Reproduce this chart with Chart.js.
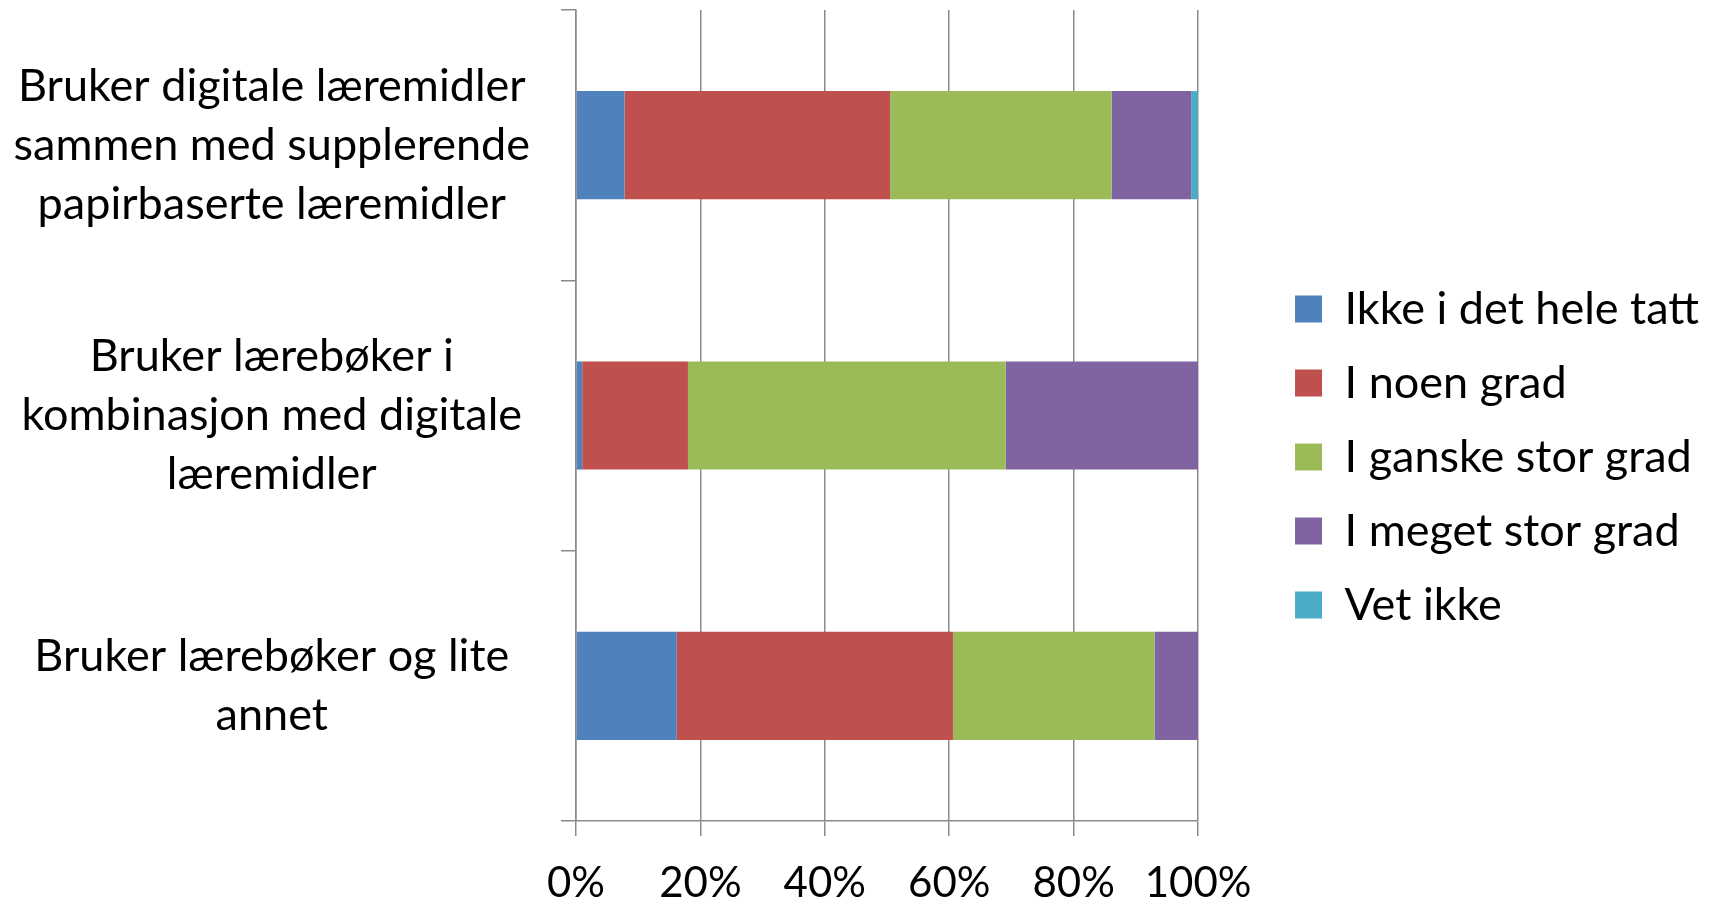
<!DOCTYPE html>
<html>
<head>
<meta charset="utf-8">
<script src="https://cdn.jsdelivr.net/npm/chart.js@4/dist/chart.umd.min.js"></script>
<style>
  html, body { margin: 0; padding: 0; background: #fff; }
  #wrap { width: 1713px; height: 904px; position: relative; }
</style>
</head>
<body>
<div id="wrap"><canvas id="myChart"></canvas></div>
<script>
(() => {
  'use strict'

  // categories (multi-line labels as in the original)
  const categories = [
    ['Bruker digitale læremidler', 'sammen med supplerende', 'papirbaserte læremidler'],
    ['Bruker lærebøker i', 'kombinasjon med digitale', 'læremidler'],
    ['Bruker lærebøker og lite', 'annet']
  ]

  const seriesNames = ['Ikke i det hele tatt', 'I noen grad', 'I ganske stor grad', 'I meget stor grad', 'Vet ikke']

  // percent values
  const ikkeIDetHeleTatt = [7.8, 1.0, 16.2]
  const iNoenGrad = [42.7, 17.0, 44.4]
  const iGanskeStorGrad = [35.6, 51.1, 32.4]
  const iMegetStorGrad = [12.8, 30.9, 7.0]
  const vetIkke = [1.1, 0, 0]

  const xTicks = [0, 20, 40, 60, 80, 100]

  const colors = ['#4F81BD', '#C0504D', '#9BBB59', '#8064A2', '#4BACC6']
  const values = [ikkeIDetHeleTatt, iNoenGrad, iGanskeStorGrad, iMegetStorGrad, vetIkke]

  const gridColor = '#8a8a8a'

  // empty layout box between the plot and the legend
  const spacer = {
    id: 'spacer',
    beforeInit(chart) {
      Chart.layouts.addBox(chart, {
        position: 'right',
        weight: 500,
        fullSize: false,
        options: {},
        width: 0, height: 0, left: 0, top: 0, right: 0, bottom: 0,
        isHorizontal() { return false },
        update(maxWidth, maxHeight) {
          this.width = 68
          this.height = maxHeight
          return { width: this.width, height: this.height }
        },
        draw() {}
      })
    }
  }

  const ctx = document.getElementById('myChart')
  // eslint-disable-next-line no-unused-vars
  const myChart = new Chart(ctx, {
    type: 'bar',
    data: {
      labels: categories,
      datasets: seriesNames.map((name, i) => ({
        label: name,
        data: values[i],
        backgroundColor: colors[i],
        borderWidth: 0,
        categoryPercentage: 0.4,
        barPercentage: 1
      }))
    },
    options: {
      indexAxis: 'y',
      responsive: true,
      maintainAspectRatio: false,
      animation: false,
      layout: { padding: { top: 10, right: 4, bottom: 0, left: 0 } },
      scales: {
        x: {
          stacked: true,
          min: 0,
          max: 100,
          afterBuildTicks: scale => { scale.ticks = xTicks.map(v => ({ value: v })) },
          afterFit: scale => { scale.height = 83 },
          ticks: {
            callback: v => v + '%',
            color: '#000',
            font: { family: 'Lato', size: 42, lineHeight: 1.0 },
            padding: 26,
            maxRotation: 0
          },
          grid: { color: gridColor, lineWidth: 1.5, tickLength: 15 },
          border: { display: true, color: gridColor, width: 1.5 }
        },
        y: {
          stacked: true,
          afterFit: scale => {
            scale.width = 576
            scale.paddingTop = 0
            scale.paddingBottom = 0
          },
          ticks: {
            color: '#000',
            font: { family: 'Lato', size: 45, lineHeight: 1.31 },
            crossAlign: 'center',
            padding: 31
          },
          grid: { drawOnChartArea: false, offset: true, color: gridColor, lineWidth: 1.5, tickLength: 15 },
          border: { display: true, color: gridColor, width: 1.5 }
        }
      },
      plugins: {
        legend: {
          position: 'right',
          align: 'center',
          maxWidth: 700,
          labels: {
            boxWidth: 27,
            boxHeight: 27,
            padding: 29,
            color: '#000',
            font: { family: 'Lato', size: 45 }
          }
        },
        tooltip: { enabled: false }
      }
    },
    plugins: [spacer]
  })
})()
</script>
</body>
</html>
